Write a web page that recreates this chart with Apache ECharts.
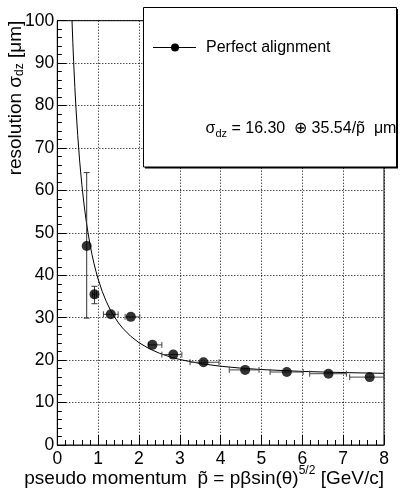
<!DOCTYPE html>
<html><head><meta charset="utf-8">
<script src="https://cdn.jsdelivr.net/npm/echarts/dist/echarts.min.js"></script>
<style>html,body{margin:0;padding:0;background:#fff}#c{width:404px;height:491px}</style>
</head><body><div id="c"></div>
<script>
// measured points (Perfect alignment)
const pTilde  = [0.72, 0.91, 1.31, 1.80, 2.33, 2.84, 3.58, 4.60, 5.62, 6.64, 7.65];
const sigmaDz = [46.9, 35.5, 30.8, 30.2, 23.6, 21.3, 19.5, 17.7, 17.2, 16.8, 16.0];
const xErrLow  = [0.72, 0.86, 1.13, 1.66, 2.23, 2.56, 3.25, 4.21, 5.21, 6.18, 7.16];
const xErrHigh = [0.72, 0.96, 1.49, 2.02, 2.56, 3.05, 3.96, 4.94, 6.02, 7.08, 8.00];
const yErrLow  = [29.9, 33.3, 30.8, 30.2, 23.6, 21.3, 19.5, 17.7, 17.2, 16.8, 16.0];
const yErrHigh = [64.2, 37.4, 30.8, 30.2, 23.6, 21.3, 19.5, 17.7, 17.2, 16.8, 16.0];
// fit curve
const fitX = [0.36, 0.38, 0.40, 0.43, 0.46, 0.50, 0.55, 0.60, 0.65, 0.70, 0.75, 0.80, 0.85, 0.90, 0.95, 1.0, 1.1, 1.2, 1.3, 1.4, 1.5, 1.6, 1.8, 2.0, 2.25, 2.5, 2.75, 3.0, 3.5, 4.0, 4.5, 5.0, 6.0, 7.0, 8.0];
const fitY = [100.1, 94.94, 90.33, 84.24, 78.96, 72.92, 66.64, 61.44, 57.06, 53.32, 50.11, 47.32, 44.88, 42.72, 40.81, 39.10, 36.19, 33.81, 31.83, 30.17, 28.76, 27.55, 25.60, 24.11, 22.70, 21.63, 20.80, 20.15, 19.20, 18.56, 18.11, 17.78, 17.34, 17.07, 16.89];
const xTicks = [0, 1, 2, 3, 4, 5, 6, 7, 8];
const yTicks = [0, 10, 20, 30, 40, 50, 60, 70, 80, 90, 100];
const legendLabel = 'Perfect alignment';

const FONT = '"Liberation Sans", Arial, sans-serif';
const ctx = document.createElement('canvas').getContext('2d');
function tw(t, size) { ctx.font = size + 'px ' + FONT; return ctx.measureText(t).width; }
function runText(pieces, x0, y0, z) {
  let x = x0; const out = [];
  pieces.forEach(p => {
    out.push({ type: 'text', x: x, y: y0 + (p[2] || 0), z: z || 100,
      style: { text: p[0], fontSize: p[1], fontFamily: FONT, fill: '#000', verticalAlign: 'middle', align: 'left' } });
    x += tw(p[0], p[1]);
  });
  return { els: out, width: x - x0 };
}
function totalW(pieces) { return pieces.reduce((s, p) => s + tw(p[0], p[1]), 0); }

const chart = echarts.init(document.getElementById('c'), null, { renderer: 'canvas' });
const GL = 57.3, GR = 20, GT = 20.7, GB = 46;
const TS = 19, LS = 17.5;

const xTitle = [['pseudo momentum  p\u0303 = p\u03B2sin(\u03B8)', TS, 0], ['5/2', 12, -8], [' [GeV/c]', TS, 0]];
const xtW = totalW(xTitle);
const xt = runText(xTitle, 384 - xtW, 478.5, 50);

const yTitle = [['resolution \u03C3', TS, 0], ['dz', 12, 4.5], [' [\u03BCm]', TS, 0]];
const ytW = totalW(yTitle);
const yt = runText(yTitle, -ytW, 0, 50);

const leg1 = runText([[legendLabel, 16, 0]], 206, 47.5, 102);
const leg2 = runText([['\u03C3', 16, 0], ['dz', 11, 5], [' = 16.30  \u2295 35.54/p\u0303  \u03BCm', 16, 0]], 205.5, 128.5, 102);

const errData = pTilde.map((x, i) => [x, sigmaDz[i], xErrLow[i], xErrHigh[i], yErrLow[i], yErrHigh[i]]);

chart.setOption({
  animation: false,
  backgroundColor: '#fff',
  grid: { left: GL, right: GR, top: GT, bottom: GB, show: true, borderColor: '#000', borderWidth: 1, backgroundColor: 'transparent' },
  xAxis: {
    type: 'value', min: xTicks[0], max: xTicks[xTicks.length - 1], interval: 1,
    axisLine: { show: true, onZero: false, lineStyle: { color: '#6a1010', width: 1 } },
    axisTick: { show: true, inside: true, length: 10, lineStyle: { color: '#000' } },
    minorTick: { show: true, splitNumber: 5, length: 5, lineStyle: { color: '#000' } },
    splitLine: { show: true, lineStyle: { color: '#000', type: [1, 2], width: 1 } },
    axisLabel: { color: '#000', fontSize: LS, fontFamily: FONT, margin: 5 }
  },
  yAxis: {
    type: 'value', min: yTicks[0], max: yTicks[yTicks.length - 1], interval: 10,
    axisLine: { show: true, onZero: false, lineStyle: { color: '#000', width: 1 } },
    axisTick: { show: true, inside: true, length: 9, lineStyle: { color: '#000' } },
    minorTick: { show: true, splitNumber: 5, length: 4.5, lineStyle: { color: '#000' } },
    splitLine: { show: true, lineStyle: { color: '#000', type: [1, 2], width: 1 } },
    axisLabel: { color: '#000', fontSize: LS, fontFamily: FONT, margin: 3 }
  },
  series: [
    {
      type: 'line', data: fitX.map((x, i) => [x, fitY[i]]), symbol: 'none', smooth: false,
      lineStyle: { color: '#000', width: 1 }, clip: true, z: 3
    },
    {
      type: 'custom', data: errData, z: 4, clip: false,
      renderItem: function (params, api) {
        const x = api.value(0), y = api.value(1);
        const xl = api.value(2), xh = api.value(3), yl = api.value(4), yh = api.value(5);
        const ch = [];
        const st = { stroke: '#444', lineWidth: 1 };
        if (xh > xl) {
          const a = api.coord([xl, y]), b = api.coord([xh, y]);
          ch.push({ type: 'line', shape: { x1: a[0], y1: a[1], x2: b[0], y2: b[1] }, style: st });
          ch.push({ type: 'line', shape: { x1: a[0], y1: a[1] - 3, x2: a[0], y2: a[1] + 3 }, style: st });
          ch.push({ type: 'line', shape: { x1: b[0], y1: b[1] - 3, x2: b[0], y2: b[1] + 3 }, style: st });
        }
        if (yh > yl) {
          const a = api.coord([x, yl]), b = api.coord([x, yh]);
          const s2 = { stroke: '#333', lineWidth: 1 };
          ch.push({ type: 'line', shape: { x1: a[0], y1: a[1], x2: b[0], y2: b[1] }, style: s2 });
          ch.push({ type: 'line', shape: { x1: a[0] - 3, y1: a[1], x2: a[0] + 3, y2: a[1] }, style: s2 });
          ch.push({ type: 'line', shape: { x1: b[0] - 3, y1: b[1], x2: b[0] + 3, y2: b[1] }, style: s2 });
        }
        return { type: 'group', children: ch };
      }
    },
    {
      type: 'scatter', data: pTilde.map((x, i) => [x, sigmaDz[i]]), symbol: 'circle', symbolSize: 10,
      itemStyle: { color: '#000' }, z: 5
    }
  ],
  graphic: [
    ...xt.els,
    { type: 'group', x: 15.5, y: 20.7, rotation: Math.PI / 2, children: yt.els },
    { type: 'rect', z: 99, shape: { x: 145, y: 9, width: 253, height: 159.5 }, style: { fill: '#000' } },
    { type: 'rect', z: 100, shape: { x: 143.5, y: 7.5, width: 253, height: 159.5 }, style: { fill: '#fff', stroke: '#000', lineWidth: 1 } },
    { type: 'line', z: 101, shape: { x1: 153, y1: 47.5, x2: 196, y2: 47.5 }, style: { stroke: '#000', lineWidth: 1.2 } },
    { type: 'circle', z: 101, shape: { cx: 175, cy: 47.5, r: 4 }, style: { fill: '#000' } },
    ...leg1.els,
    ...leg2.els
  ]
});
</script>
</body></html>
